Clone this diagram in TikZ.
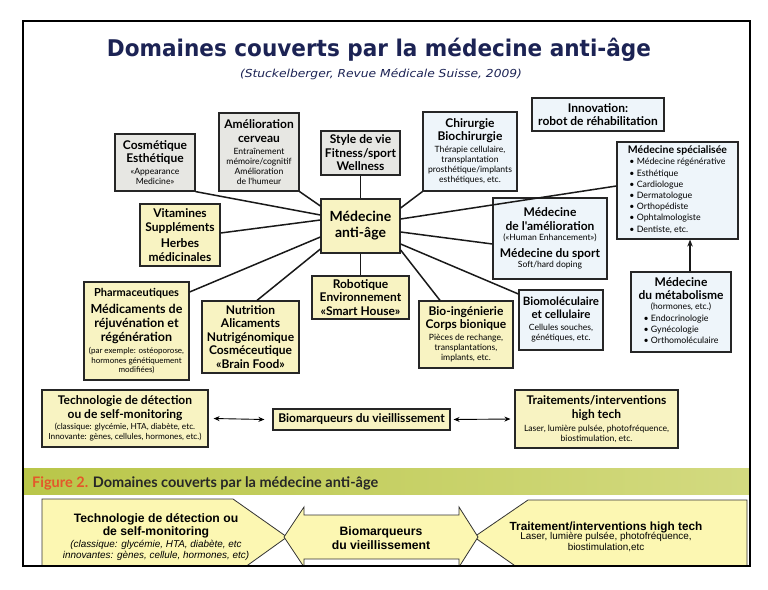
\documentclass[tikz,border=0pt]{standalone}
\usepackage{fontspec}
\usepackage{graphicx}
\setmainfont{Lato}
\newfontfamily\gsf{Lato}
\newfontfamily\arf{Liberation Sans}
\newfontfamily\dvf{DejaVu Sans}
\usetikzlibrary{arrows.meta,calc}
\definecolor{navy}{HTML}{1C2354}
\definecolor{bgray}{HTML}{E7E7E3}
\definecolor{bblue}{HTML}{EEF5FA}
\definecolor{byel}{HTML}{F8F3C2}
\definecolor{pyel}{HTML}{FCF7B2}
\definecolor{bandL}{HTML}{B9C649}
\definecolor{bandR}{HTML}{D3DA80}
\definecolor{figor}{HTML}{E4572A}
\newcommand{\hb}{\fontsize{12}{13.5}\selectfont\bfseries}
\newcommand{\hbx}[2]{\fontsize{#1}{#2}\selectfont\bfseries}
\newcommand{\sm}{\fontsize{8.6}{10}\selectfont\mdseries}
\newcommand{\smx}[2]{\fontsize{#1}{#2}\selectfont\mdseries}
\newcommand{\bt}[2]{\parbox{#1}{\centering #2}}
\tikzset{
  box/.style={draw=black!85, line width=1.2pt, inner sep=0pt, font=\gsf},
  gb/.style={box, fill=bgray},
  bb/.style={box, fill=bblue},
  yb/.style={box, fill=byel},
  conn/.style={line width=1.5pt, black!90},
  dbl/.style={line width=0.9pt, {Stealth[length=6pt,width=5pt]}-{Stealth[length=6pt,width=5pt]}},
  bshape/.style={draw=black!80, line width=0.8pt, fill=pyel},
}
\begin{document}
\begin{tikzpicture}[x=1pt,y=-1pt]
\useasboundingbox[fill=white] (0,0) rectangle (768,589);

% title
\node[anchor=base, text=navy, inner sep=0pt] (title) at (379,56)
  {\resizebox{544pt}{\height}{\dvf\fontsize{23}{26}\selectfont\bfseries Domaines couverts par la médecine anti-âge}};
\node[anchor=base, text=navy, inner sep=0pt] (sub) at (381,77)
  {\resizebox{282pt}{\height}{\dvf\fontsize{11}{13}\selectfont\itshape (Stuckelberger, Revue Médicale Suisse, 2009)}};

% boxes
\node[gb, minimum width=80pt, minimum height=57pt] (cosm) at (155,162.5)
  {\bt{78pt}{\hb Cosmétique\\Esthétique\\[2pt]\sm «Appearance\\Medicine»}};
\node[gb, minimum width=80pt, minimum height=78pt] (amel) at (259,152)
  {\bt{78pt}{\hb Amélioration\\cerveau\\[2pt]\sm Entraînement\\mémoire/cognitif\\Amélioration\\de l'humeur}};
\node[gb, minimum width=79pt, minimum height=44pt] (style) at (360.5,153)
  {\bt{77pt}{\hb Style de vie\\Fitness/sport\\Wellness}};
\node[bb, minimum width=94pt, minimum height=79pt] (chir) at (470,151.5)
  {\bt{92pt}{\hb Chirurgie\\Biochirurgie\\[2pt]\sm Thérapie cellulaire,\\transplantation\\prosthétique/implants\\esthétiques, etc.}};
\node[yb, minimum width=79pt, minimum height=54pt] (mc) at (360.5,226)
  {\bt{77pt}{\hbx{14}{16}Médecine\\anti-âge}};
\node[bb, minimum width=132pt, minimum height=33pt] (innov) at (598,114.5)
  {\bt{130pt}{\hb Innovation:\\robot de réhabilitation}};
\node[bb, minimum width=121pt, minimum height=97pt] (spec) at (677.5,190.5)
  {\bt{119pt}{\hbx{10.5}{12.5}Médecine spécialisée\\[1pt]\smx{8.8}{11.2}%
   \begin{tabular}{@{}l@{}}• Médecine régénérative\\• Esthétique\\• Cardiologue\\• Dermatologue\\• Orthopédiste\\• Ophtalmologiste\\• Dentiste, etc.\end{tabular}}};
\node[bb, minimum width=114pt, minimum height=81pt] (amelio) at (550,238.5)
  {\bt{112pt}{\hb Médecine\\de l'amélioration\\\sm («Human Enhancement»)\\[4pt]\hb Médecine du sport\\\sm Soft/hard doping}};
\node[bb, minimum width=84pt, minimum height=60pt] (biomol) at (561,320)
  {\bt{82pt}{\hbx{11.5}{13}Biomoléculaire\\et cellulaire\\[2pt]\sm Cellules souches,\\génétiques, etc.}};
\node[bb, minimum width=100pt, minimum height=80pt] (metab) at (681,312)
  {\bt{98pt}{\hb Médecine\\du métabolisme\\\sm (hormones, etc.)\\[2pt]\smx{8.8}{11}%
   \begin{tabular}{@{}l@{}}• Endocrinologie\\• Gynécologie\\• Orthomoléculaire\end{tabular}}};
\node[yb, minimum width=80pt, minimum height=62pt] (vit) at (180,235)
  {\bt{78pt}{\hb Vitamines\\Suppléments\\[3pt]Herbes\\médicinales}};
\node[yb, minimum width=105pt, minimum height=98pt] (pharma) at (136.5,331)
  {\bt{103pt}{\hbx{11}{13}Pharmaceutiques\\[3pt]\hbx{12.5}{14}Médicaments de\\réjuvénation et\\régénération\\[3pt]\smx{8}{9.5}(par exemple: ostéoporose,\\hormones génétiquement\\modifiées)}};
\node[yb, minimum width=97pt, minimum height=72pt] (nutri) at (250.5,337)
  {\bt{95pt}{\hb Nutrition\\Alicaments\\Nutrigénomique\\Cosméceutique\\«Brain Food»}};
\node[yb, minimum width=97pt, minimum height=43pt] (robot) at (360.5,297.5)
  {\bt{95pt}{\hb Robotique\\Environnement\\«Smart House»}};
\node[yb, minimum width=94pt, minimum height=67pt] (bioing) at (466,334.5)
  {\bt{92pt}{\hb Bio-ingénierie\\Corps bionique\\[2pt]\sm Pièces de rechange,\\transplantations,\\implants, etc.}};
\node[yb, minimum width=166pt, minimum height=57pt] (tech) at (125,418.5)
  {\bt{164pt}{\hb Technologie de détection\\ou de self-monitoring\\[2pt]\smx{8.3}{9.8}(classique: glycémie, HTA, diabète, etc.\\Innovante: gènes, cellules, hormones, etc.)}};
\node[yb, minimum width=177pt, minimum height=21pt] (bioM) at (361.5,419.5)
  {\bt{175pt}{\hb Biomarqueurs du vieillissement}};
\node[yb, minimum width=163pt, minimum height=58pt] (trait) at (596.5,419)
  {\bt{161pt}{\hb Traitements/interventions\\high tech\\[3pt]\smx{8.6}{10}Laser, lumière pulsée, photofréquence,\\biostimulation, etc.}};

% connectors
\draw[conn] (cosm.south east) -- ([yshift=11pt]mc.west);
\draw[conn] (amel.south east) -- ([yshift=20pt]mc.west);
\draw[conn] ([yshift=2pt]vit.east) -- ([yshift=6pt]mc.west);
\draw[conn] ([yshift=39pt]pharma.east) -- ([yshift=-11pt]mc.west);
\draw[conn] ([xshift=6.5pt]nutri.north) -- ([yshift=-23pt]mc.west);
\draw[conn] (style.south) -- (mc.north);
\draw[conn] (robot.north) -- (mc.south);
\draw[conn] (chir.south west) -- ([yshift=18pt]mc.east);
\draw[conn] ([yshift=7pt]mc.east) -- ([yshift=4.5pt]spec.west);
\draw[conn] ([yshift=-6pt]mc.east) -- ([yshift=-5.5pt]amelio.west);
\draw[conn] ([yshift=-18pt]mc.east) -- ([yshift=26pt]biomol.west);
\draw[conn] ([yshift=-24pt]mc.east) -- ([xshift=-26pt]bioing.north);
\draw[conn, -{Stealth[length=7pt,width=5.5pt]}] ([xshift=9pt]metab.north) -- ([xshift=12.5pt]spec.south);
\draw[dbl] ([xshift=5pt]tech.east) -- ([xshift=-8pt]bioM.west);
\draw[dbl] ([xshift=3pt]bioM.east) -- ([xshift=-4pt]trait.west);

% band
\shade[left color=bandL, right color=bandR] (23,468) rectangle (750,494);
\node[anchor=base west, inner sep=0pt, font=\gsf\fontsize{14.5}{16}\selectfont\bfseries] (fig) at (32,487)
  {\textcolor{figor}{Figure 2.} \textcolor{black!85}{Domaines couverts par la médecine anti-âge}};

% bottom shapes
\begin{scope}
\clip (23,21) rectangle (750,566);
\path[bshape] (42,570) -- (42,499) -- (233,499) -- (287,537) -- (241,570) -- cycle;
\path[bshape] (747,570) -- (747,500) -- (528,500) -- (474,537) -- (521,570) -- cycle;
\path[bshape] (284,537) -- (304,507) -- (304,515) -- (459,515) -- (459,507) -- (478,537)
   -- (459,567) -- (459,559) -- (304,559) -- (304,567) -- cycle;
\end{scope}
\node[inner sep=0pt, font=\arf] (bl) at (156,537)
  {\bt{230pt}{\fontsize{12.2}{13}\selectfont\bfseries Technologie de détection ou\\de self-monitoring\\[2pt]
   \fontsize{9.9}{10.5}\selectfont\mdseries\itshape (classique: glycémie, HTA, diabète, etc\\innovantes: gènes, cellule, hormones, etc)}};
\node[inner sep=0pt, font=\arf] (bm) at (381,538)
  {\bt{150pt}{\fontsize{12.2}{13.5}\selectfont\bfseries Biomarqueurs\\du vieillissement}};
\node[inner sep=0pt, font=\arf] (br) at (606,537)
  {\bt{240pt}{\fontsize{11.8}{13}\selectfont\bfseries Traitement/interventions high tech\\[-1.5pt]
   \fontsize{9.9}{11}\selectfont\mdseries Laser, lumière pulsée, photofréquence,\\biostimulation,etc}};

% frame
\draw[line width=2pt] (23,21) rectangle (750,566);
\end{tikzpicture}
\end{document}
